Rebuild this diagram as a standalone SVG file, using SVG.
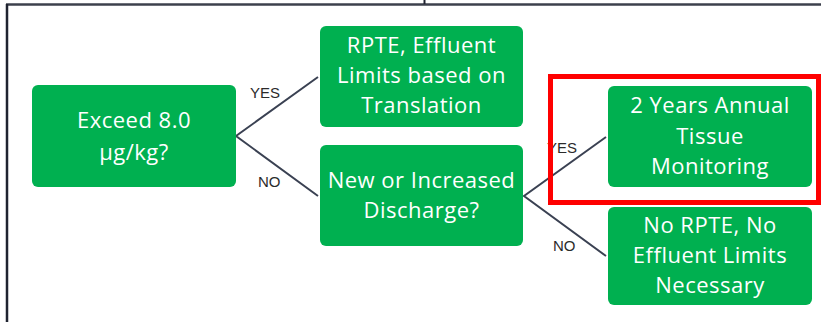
<svg xmlns="http://www.w3.org/2000/svg" width="821" height="322" viewBox="0 0 821 322">
<style>
.box{fill:#00b050;}
.bt{font-family:"Open Sans","Noto Sans",sans-serif;font-size:22px;letter-spacing:0.5px;fill:#ffffff;text-anchor:middle;}
.lbl{font-family:"Liberation Sans",Arial,sans-serif;font-size:15px;fill:#2b2b2b;}
.con{stroke:#3a4152;stroke-width:2;fill:none;}
</style>
<rect width="821" height="322" fill="#ffffff"/>
<g id="frame">
<line x1="6" y1="4.5" x2="821" y2="4.5" stroke="#3c404c" stroke-width="2.5"/>
<line x1="7" y1="4" x2="7" y2="322" stroke="#1f2330" stroke-width="2.5"/>
<line x1="424.5" y1="0" x2="424.5" y2="4" stroke="#1f2330" stroke-width="2"/>
</g>
<g id="connectors">
<polyline class="con" points="318,77 236,136 318,196"/>
<polyline class="con" points="606,137 524,196 606,256"/>
<text class="lbl" x="250" y="98">YES</text>
<text class="lbl" x="258" y="187">NO</text>
<text class="lbl" x="547" y="153">YES</text>
<text class="lbl" x="553" y="251">NO</text>
</g>
<g id="n1">
<rect class="box" x="32" y="85" width="204" height="102" rx="6"/>
<text class="bt" x="134" y="128">Exceed 8.0</text>
<text class="bt" x="134" y="160">µg/kg?</text>
</g>
<g id="n2">
<rect class="box" x="320" y="26" width="203" height="101" rx="6"/>
<text class="bt" x="421.5" y="53">RPTE, Effluent</text>
<text class="bt" x="421.5" y="83">Limits based on</text>
<text class="bt" x="421.5" y="113">Translation</text>
</g>
<g id="n3">
<rect class="box" x="320" y="145" width="203" height="101" rx="6"/>
<text class="bt" x="421.5" y="188">New or Increased</text>
<text class="bt" x="421.5" y="218">Discharge?</text>
</g>
<g id="n4">
<rect class="box" x="608" y="86" width="204" height="101" rx="6"/>
<text class="bt" x="710" y="113">2 Years Annual</text>
<text class="bt" x="710" y="143.5">Tissue</text>
<text class="bt" x="710" y="174">Monitoring</text>
</g>
<g id="n5">
<rect class="box" x="608" y="207" width="204" height="98" rx="6"/>
<text class="bt" x="710" y="233">No RPTE, No</text>
<text class="bt" x="710" y="263">Effluent Limits</text>
<text class="bt" x="710" y="293">Necessary</text>
</g>
<g id="highlight">
<rect x="550.5" y="76.5" width="268" height="126" fill="none" stroke="#ff0000" stroke-width="5"/>
</g>
</svg>
